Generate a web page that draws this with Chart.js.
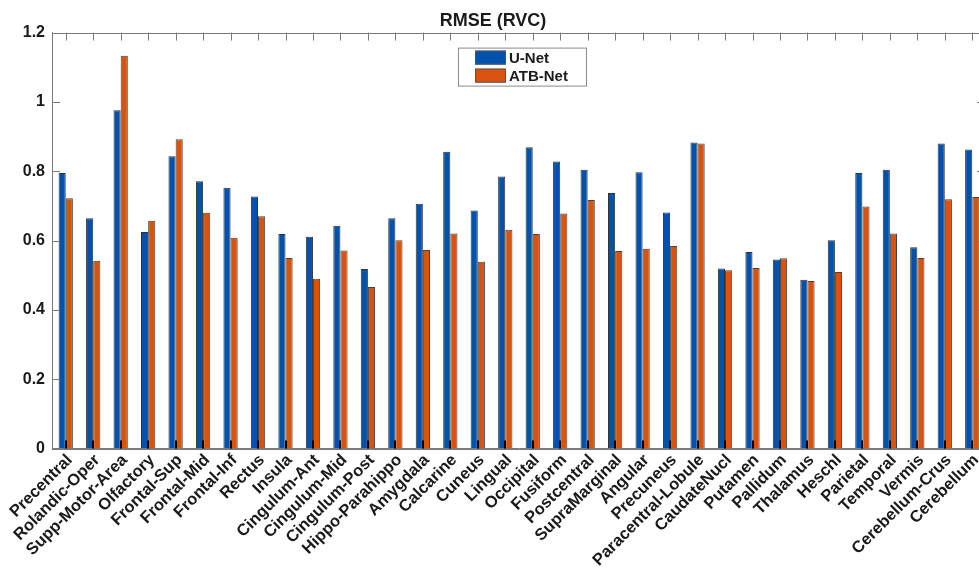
<!DOCTYPE html>
<html>
<head>
<meta charset="utf-8">
<script src="https://cdn.jsdelivr.net/npm/chart.js@4/dist/chart.umd.min.js"></script>
<style>
  html, body { margin: 0; padding: 0; background: #fff; overflow: hidden; }
  #wrap { width: 1000px; height: 573px; }
</style>
</head>
<body>
<div id="wrap"><canvas id="rmseChart" width="1000" height="573"></canvas></div>
<script>
const regions = [
    "Precentral", "Rolandic-Oper", "Supp-Motor-Area", "Olfactory", "Frontal-Sup",
    "Frontal-Mid", "Frontal-Inf", "Rectus", "Insula", "Cingulum-Ant",
    "Cingulum-Mid", "Cingulum-Post", "Hippo-Parahippo", "Amygdala", "Calcarine",
    "Cuneus", "Lingual", "Occipital", "Fusiform", "Postcentral",
    "SupraMarginal", "Angular", "Precuneus", "Paracentral-Lobule", "CaudateNucl",
    "Putamen", "Pallidum", "Thalamus", "Heschl", "Parietal",
    "Temporal", "Vermis", "Cerebellum-Crus", "Cerebellum"
];

const unetRmse = [
    0.795, 0.664, 0.976, 0.625, 0.843,
    0.771, 0.752, 0.727, 0.619, 0.611,
    0.643, 0.518, 0.664, 0.706, 0.856,
    0.687, 0.785, 0.869, 0.828, 0.804,
    0.737, 0.797, 0.681, 0.883, 0.519,
    0.567, 0.545, 0.487, 0.601, 0.795,
    0.804, 0.581, 0.880, 0.863
];

const atbRmse = [
    0.722, 0.542, 1.133, 0.657, 0.892,
    0.680, 0.608, 0.670, 0.550, 0.490,
    0.571, 0.466, 0.601, 0.573, 0.620,
    0.539, 0.631, 0.619, 0.678, 0.717,
    0.570, 0.576, 0.584, 0.880, 0.514,
    0.521, 0.549, 0.483, 0.509, 0.698,
    0.620, 0.550, 0.719, 0.726
];

const yTickLabels = ["0", "0.2", "0.4", "0.6", "0.8", "1", "1.2"];
const seriesNames = ["U-Net", "ATB-Net"];

const blue = "#0052ad";
const orange = "#d9530f";
const axisGrey = "#7a7a7a";
const fontFamily = "'Liberation Sans', Arial, sans-serif";

// matlab style box, inward ticks and boxed legend
const matlabAxes = {
    id: "matlabAxes",
    afterDatasetsDraw(chart) {
        const ctx = chart.ctx;
        const area = chart.chartArea;
        const xs = chart.scales.x;
        const ys = chart.scales.y;
        ctx.save();

        // black tick marks at the bottom, over the bars
        ctx.strokeStyle = "#000";
        ctx.lineWidth = 2;
        xs.ticks.forEach((t, i) => {
            const x = Math.round(xs.getPixelForTick(i));
            ctx.beginPath();
            ctx.moveTo(x, area.bottom);
            ctx.lineTo(x, area.bottom - 8);
            ctx.stroke();
        });

        // top ticks
        ctx.strokeStyle = axisGrey;
        ctx.lineWidth = 1;
        xs.ticks.forEach((t, i) => {
            const x = Math.round(xs.getPixelForTick(i)) + 0.5;
            ctx.beginPath();
            ctx.moveTo(x, area.top);
            ctx.lineTo(x, area.top + 8);
            ctx.stroke();
        });

        // left and right ticks
        ys.ticks.forEach((t, i) => {
            const y = Math.round(ys.getPixelForTick(i)) + 0.5;
            ctx.beginPath();
            ctx.moveTo(area.left, y);
            ctx.lineTo(area.left + 8, y);
            ctx.moveTo(area.right, y);
            ctx.lineTo(area.right - 9, y);
            ctx.stroke();
        });

        // box
        ctx.strokeRect(Math.round(area.left) + 0.5, Math.round(area.top) + 0.5,
            Math.round(area.right - area.left), Math.round(area.bottom - area.top));

        // legend
        const lx = 458, ly = area.top + 15, lw = 128, lh = 38;
        ctx.fillStyle = "#fff";
        ctx.fillRect(lx, ly, lw, lh);
        ctx.strokeStyle = "#8a8a8a";
        ctx.strokeRect(lx + 0.5, ly + 0.5, lw, lh);
        const colors = [blue, orange];
        ctx.font = "bold 15px " + fontFamily;
        ctx.textBaseline = "middle";
        seriesNames.forEach((name, i) => {
            const sy = ly + 3 + i * 18;
            ctx.fillStyle = colors[i];
            ctx.fillRect(lx + 17, sy, 31, 14);
            ctx.strokeStyle = "#555";
            ctx.strokeRect(lx + 17.5, sy + 0.5, 30, 13);
            ctx.fillStyle = "#1a1a1a";
            ctx.fillText(name, lx + 51, sy + 8);
        });
        ctx.restore();
    }
};

const ctx = document.getElementById("rmseChart").getContext("2d");

new Chart(ctx, {
    type: "bar",
    data: {
        labels: regions,
        datasets: [
            {
                label: seriesNames[0],
                data: unetRmse,
                backgroundColor: blue,
                borderColor: "#333",
                borderWidth: 1,
                categoryPercentage: 0.52,
                barPercentage: 1.0
            },
            {
                label: seriesNames[1],
                data: atbRmse,
                backgroundColor: orange,
                borderColor: "#444",
                borderWidth: 1,
                categoryPercentage: 0.52,
                barPercentage: 1.0
            }
        ]
    },
    options: {
        responsive: false,
        animation: false,
        devicePixelRatio: 1,
        layout: { padding: { left: 0, right: 14, top: 0, bottom: 0 } },
        scales: {
            x: {
                offset: true,
                grid: { display: true, drawOnChartArea: false, drawTicks: false },
                border: { display: true, color: axisGrey },
                ticks: {
                    autoSkip: false,
                    minRotation: 45,
                    maxRotation: 45,
                    padding: 2,
                    labelOffset: 4,
                    color: "#1a1a1a",
                    font: { family: fontFamily, size: 16.5, weight: "bold" }
                },
                afterFit: scale => { scale.height = 124.5; }
            },
            y: {
                min: 0,
                max: 1.2,
                grid: { display: true, drawOnChartArea: false, drawTicks: false },
                border: { display: true, color: axisGrey },
                ticks: {
                    stepSize: 0.2,
                    padding: 7,
                    color: "#1a1a1a",
                    font: { family: fontFamily, size: 16, weight: "bold" },
                    callback: (value, index) => yTickLabels[index]
                },
                afterFit: scale => { scale.width = 52; }
            }
        },
        plugins: {
            legend: { display: false },
            tooltip: { enabled: false },
            title: {
                display: true,
                text: "RMSE (RVC)",
                color: "#1a1a1a",
                font: { family: fontFamily, size: 18, weight: "bold", lineHeight: 1.2 },
                padding: { top: 10, bottom: 1 }
            }
        }
    },
    plugins: [matlabAxes]
});
</script>
</body>
</html>
